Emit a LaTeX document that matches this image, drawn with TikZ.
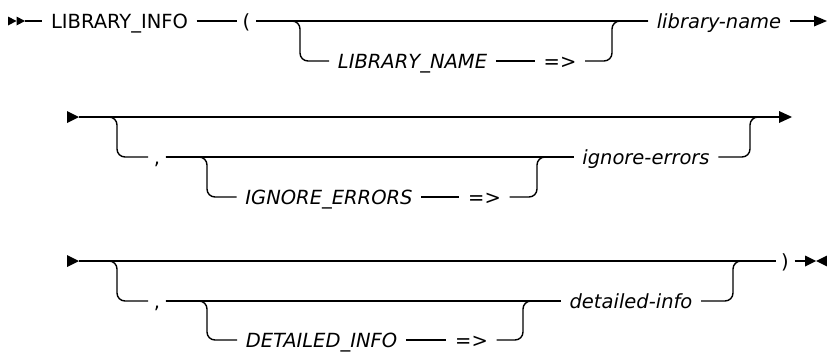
\documentclass[tikz,border=0pt]{standalone}
\usepackage{fontspec}
\setmainfont{DejaVu Sans}
\begin{document}
\begin{tikzpicture}[x=1pt,y=-1pt,line width=1.4pt,
  txt/.style={inner xsep=8pt,inner ysep=0pt,text height=14.2pt,text depth=0pt,anchor=center,font=\fontsize{19.5}{23}\selectfont},
  kw/.style={txt},
  var/.style={txt,font=\fontsize{19.5}{23}\selectfont\itshape},
  punct/.style={txt,inner xsep=5pt},
  rc/.style={rounded corners=8pt}]
\useasboundingbox (0,0) rectangle (827,351);
% ---------- row 1 ----------
\coordinate (a1) at (25,21);
\fill (8,16.5) -- (16.5,21) -- (8,25.5) -- cycle;
\fill (16.5,16.5) -- (25,21) -- (16.5,25.5) -- cycle;
\node[kw] (info) at (119.5,21) {LIBRARY\_INFO};
\node[punct] (lp) at (246.5,21) {(};
\node[var] (lnk) at (412.5,61) {LIBRARY\_NAME};
\node[kw] (arr1) at (560,61) {=>};
\node[var] (lname) at (719,21) {library-name};
\coordinate (b1) at (300,21);
\coordinate (m1) at (612,21);
\coordinate (t1) at (814,21);
\draw (a1) -- (info.west);
\draw (info.east) -- (lp.west);
\draw (lp.east) -- (lname.west);
\draw[rc] (lp.east) -- (b1) |- (lnk.west);
\draw (lnk.east) -- (arr1.west);
\draw[rc] (arr1.east) -| (m1) -- (lname.west);
\draw (lname.east) -- (t1);
\fill (814,15.5) -- (827,21) -- (814,26.5) -- cycle;
% ---------- row 2 ----------
\coordinate (s2) at (79,117);
\coordinate (t2) at (779,117);
\fill (67,111) -- (79,117) -- (67,123) -- cycle;
\coordinate (b21) at (117,117);
\coordinate (b22) at (207,157);
\coordinate (m21) at (537,157);
\coordinate (m22) at (750,117);
\node[punct] (c2) at (157,157) {,};
\node[var] (ign) at (329,197) {IGNORE\_ERRORS};
\node[kw] (arr2) at (484.5,197) {=>};
\node[var] (igv) at (646,157) {ignore-errors};
\draw (s2) -- (t2);
\fill (779,111) -- (792,117) -- (779,123) -- cycle;
\draw[rc] (s2) -- (b21) |- (c2.west);
\draw (c2.east) -- (igv.west);
\draw[rc] (c2.east) -- (b22) |- (ign.west);
\draw (ign.east) -- (arr2.west);
\draw[rc] (arr2.east) -| (m21) -- (igv.west);
\draw[rc] (igv.east) -| (m22) -- (t2);
% ---------- row 3 ----------
\coordinate (s3) at (79,261);
\coordinate (t3) at (805,261);
\fill (67,255) -- (79,261) -- (67,267) -- cycle;
\coordinate (b31) at (117,261);
\coordinate (b32) at (207,301);
\coordinate (m31) at (523,301);
\coordinate (m32) at (733,261);
\node[punct] (c3) at (157,301) {,};
\node[var] (det) at (321.5,340) {DETAILED\_INFO};
\node[kw] (arr3) at (471.5,340) {=>};
\node[var] (dtv) at (631,301) {detailed-info};
\node[punct] (rp) at (785,261) {)};
\draw (s3) -- (rp.west);
\draw[rc] (s3) -- (b31) |- (c3.west);
\draw (c3.east) -- (dtv.west);
\draw[rc] (c3.east) -- (b32) |- (det.west);
\draw (det.east) -- (arr3.west);
\draw[rc] (arr3.east) -| (m31) -- (dtv.west);
\draw[rc] (dtv.east) -| (m32) -- (rp.west);
\draw (rp.east) -- (t3);
\fill (805,255.5) -- (816,261) -- (805,266.5) -- cycle;
\fill (827,255.5) -- (816,261) -- (827,266.5) -- cycle;
\end{tikzpicture}
\end{document}
